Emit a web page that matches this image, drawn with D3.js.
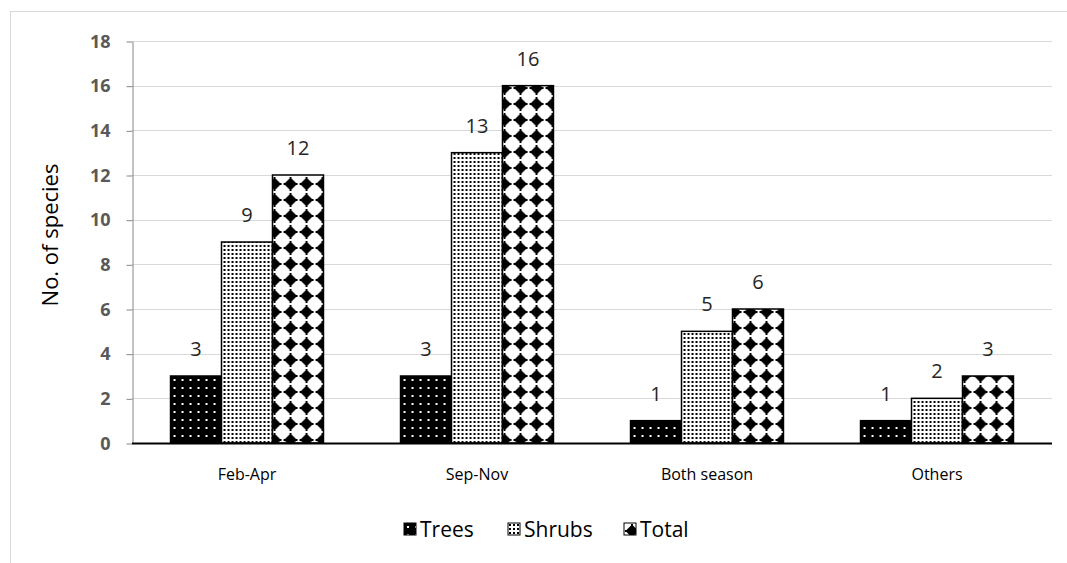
<!DOCTYPE html>
<html><head><meta charset="utf-8">
<script src="https://cdn.jsdelivr.net/npm/d3@7"></script>
<style>body{margin:0;background:#fff}svg{display:block}</style>
</head><body>
<svg id="c" width="1067" height="563"></svg>
<script>
const categories = ["Feb-Apr", "Sep-Nov", "Both season", "Others"];
const seriesNames = ["Trees", "Shrubs", "Total"];
const trees = [3, 3, 1, 1];
const shrubs = [9, 13, 5, 2];
const total = [12, 16, 6, 3];
const yTicks = [0, 2, 4, 6, 8, 10, 12, 14, 16, 18];
const yTitle = "No. of species";

(function () {
const seriesValues = [trees, shrubs, total];
const svg = d3.select("#c");
const font = "'Open Sans', 'Noto Sans', sans-serif";

// patterns
const defs = svg.append("defs");
const pTrees = defs.append("pattern").attr("id", "pTrees").attr("patternUnits", "userSpaceOnUse")
  .attr("width", 8).attr("height", 8);
pTrees.append("rect").attr("width", 8).attr("height", 8).attr("fill", "#000");
pTrees.append("rect").attr("x", 3).attr("y", 3).attr("width", 2).attr("height", 2).attr("fill", "#fff");

const pShrubs = defs.append("pattern").attr("id", "pShrubs").attr("patternUnits", "userSpaceOnUse")
  .attr("width", 4).attr("height", 4);
pShrubs.append("rect").attr("width", 4).attr("height", 4).attr("fill", "#fff");
pShrubs.append("rect").attr("x", 1).attr("y", 1).attr("width", 2).attr("height", 2).attr("fill", "#000");

const pTotal = defs.append("pattern").attr("id", "pTotal").attr("patternUnits", "userSpaceOnUse")
  .attr("width", 16).attr("height", 16);
pTotal.append("rect").attr("width", 16).attr("height", 16).attr("fill", "#fff");
pTotal.append("path").attr("d", "M8,1.5 L14.5,8 L8,14.5 L1.5,8 Z").attr("fill", "#000");
pTotal.append("rect").attr("x", 1).attr("y", 7).attr("width", 14).attr("height", 2).attr("fill", "#000");
pTotal.append("rect").attr("x", 7).attr("y", 1).attr("width", 2).attr("height", 14).attr("fill", "#000");
const fills = ["url(#pTrees)", "url(#pShrubs)", "url(#pTotal)"];

// outer frame
svg.append("rect").attr("x", 10.5).attr("y", 11.5).attr("width", 1100).attr("height", 600)
  .attr("fill", "none").attr("stroke", "#d9d9d9");

const pl = 132, pr = 1052, pt = 41, pb = 443;
const x0 = d3.scaleBand().domain(categories).range([pl, pr]).paddingInner(0.335).paddingOuter(0.1675);
const x1 = d3.scaleBand().domain(seriesNames).range([0, x0.bandwidth()]);
const y = d3.scaleLinear().domain([0, 18]).range([pb, pt]);

// gridlines
svg.append("g").selectAll("line").data(yTicks.filter(d => d > 0)).join("line")
  .attr("x1", pl).attr("x2", pr)
  .attr("y1", d => Math.round(y(d)) + 0.5).attr("y2", d => Math.round(y(d)) + 0.5)
  .attr("stroke", "#d9d9d9").attr("stroke-width", 1);

// y axis
const yAxis = svg.append("g").attr("transform", `translate(${pl + 0.5},0.5)`)
  .call(d3.axisLeft(y).tickValues(yTicks).tickSize(6).tickPadding(16).tickSizeOuter(0));
yAxis.select(".domain").attr("stroke", "#868686");
yAxis.selectAll(".tick line").attr("stroke", "#868686");
yAxis.selectAll(".tick text").attr("fill", "#595959").attr("font-family", font)
  .attr("font-size", 18).attr("font-weight", "bold");

// bars
const groups = svg.append("g").selectAll("g").data(categories).join("g")
  .attr("transform", d => `translate(${x0(d)},0)`);
groups.selectAll("rect").data((d, i) => seriesNames.map((s, j) => ({ s, v: seriesValues[j][i], j })))
  .join("rect")
  .attr("x", d => x1(d.s)).attr("width", x1.bandwidth())
  .attr("y", d => y(d.v)).attr("height", d => y(0) - y(d.v))
  .attr("fill", d => fills[d.j]).attr("stroke", "#000").attr("stroke-width", 1.5);
groups.selectAll("text").data((d, i) => seriesNames.map((s, j) => ({ s, v: seriesValues[j][i], j })))
  .join("text")
  .attr("x", d => x1(d.s) + x1.bandwidth() / 2).attr("y", d => y(d.v) - 20)
  .attr("text-anchor", "middle").attr("font-family", font).attr("font-size", 20)
  .attr("fill", "#262626").text(d => d.v);

// x axis
svg.append("line").attr("x1", pl).attr("x2", pr).attr("y1", pb + 0.5).attr("y2", pb + 0.5)
  .attr("stroke", "#000").attr("stroke-width", 2);
svg.append("g").selectAll("text").data(categories).join("text")
  .attr("x", d => x0(d) + x0.bandwidth() / 2).attr("y", 480)
  .attr("text-anchor", "middle").attr("font-family", font).attr("font-size", 16)
  .attr("fill", "#000").text(d => d);

// y title
svg.append("text").attr("transform", "translate(58,235) rotate(-90)")
  .attr("text-anchor", "middle").attr("font-family", font).attr("font-size", 22)
  .attr("fill", "#000").text(yTitle);

// legend
const legendX = [404, 508, 624];
const leg = svg.append("g").selectAll("g").data(seriesNames).join("g")
  .attr("transform", (d, i) => `translate(${legendX[i]},523)`);
leg.append("rect").attr("width", 12).attr("height", 12).attr("fill", (d, i) => fills[i])
  .attr("stroke", "#000").attr("stroke-width", 1);
leg.append("text").attr("x", 16).attr("y", 14).attr("font-family", font).attr("font-size", 21)
  .attr("fill", "#000").text(d => d);
})();
</script>
</body></html>
